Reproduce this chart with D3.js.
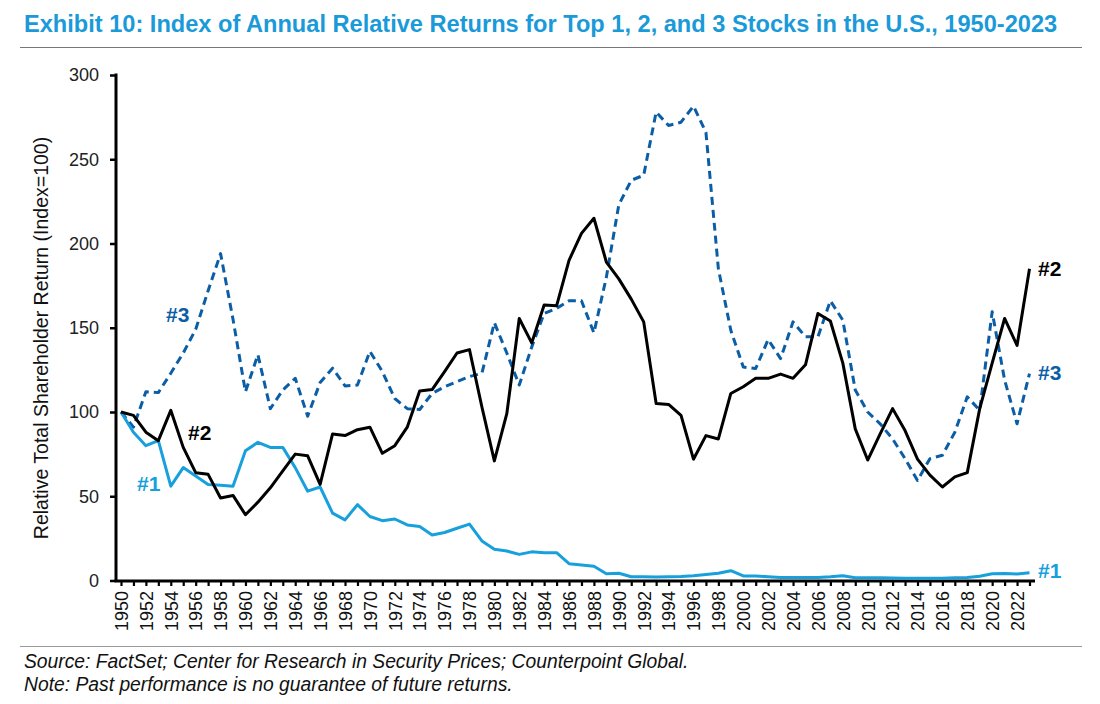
<!DOCTYPE html>
<html>
<head>
<meta charset="utf-8">
<script src="https://cdn.jsdelivr.net/npm/d3@7"></script>
<style>
  body { margin: 0; background: #fff; }
  text { font-family: "Liberation Sans", Arial, sans-serif; }
</style>
</head>
<body>
<svg id="chart" width="1100" height="704"></svg>
<script>
// years 1950..2023
const years = d3.range(1950, 2024);

// index values (1950 = 100)
const top1 = [100, 88, 80, 83, 56, 67, 62, 57, 56.5, 56,
  77, 82, 79, 79, 67, 53, 55.5, 40, 36, 45,
  38, 35.5, 36.5, 33, 32, 27, 28.5, 31, 33.5, 23.5,
  18.5, 17.5, 15.5, 17, 16.5, 16.5, 10, 9.2, 8.5, 4,
  4.3, 2.2, 2.2, 2.1, 2.2, 2.4, 2.8, 3.6, 4.3, 5.8,
  2.7, 2.7, 2.2, 1.8, 1.8, 1.8, 1.8, 2.2, 2.8, 1.6,
  1.6, 1.6, 1.5, 1.3, 1.3, 1.3, 1.3, 1.6, 1.8, 2.5,
  4, 4.1, 3.8, 4.6];

const top2 = [100, 98, 88, 83, 101, 79, 64, 63, 49, 50.5,
  39, 46.5, 55, 65, 75, 74, 57, 87, 86, 89.5,
  91, 75.5, 80, 91, 112.5, 113.3, 124, 135, 137, 103,
  71, 99, 155.5, 141, 163.5, 163, 190, 206, 215, 189,
  179, 167, 153.5, 105, 104.5, 98, 72, 86, 84, 111,
  115, 120, 120, 122.5, 120, 128, 158.5, 154, 129, 90,
  71.5, 87, 102, 89, 72, 62.5, 55.5, 61.5, 64, 102,
  129, 155.5, 139.5, 185];

const top3 = [100, 91, 112, 111.5, 123, 135, 149, 172, 194, 155,
  112, 134, 102, 113, 120, 97.5, 117.5, 126, 115.5, 116,
  136, 124, 108, 102, 101.5, 111, 115, 118, 121, 123,
  153, 135, 116, 138.5, 158.5, 161.5, 166, 166, 147, 180,
  223, 237.5, 240.5, 278, 270, 272, 281.5, 266, 185, 148.5,
  126.7, 125.8, 143, 131.7, 153.5, 144.6, 144.6, 166, 154.5, 113,
  100, 93, 84, 72.3, 59.4, 72.3, 74.3, 88, 109, 101,
  159.5, 119, 93, 122.8];

const yTicks = [0, 50, 100, 150, 200, 250, 300];

const TITLE = "Exhibit 10: Index of Annual Relative Returns for Top 1, 2, and 3 Stocks in the U.S., 1950-2023";
const Y_LABEL = "Relative Total Shareholder Return (Index=100)";
const NOTES = ["Source: FactSet; Center for Research in Security Prices; Counterpoint Global.",
  "Note: Past performance is no guarantee of future returns."];

const COL1 = "#18a0dd", COL2 = "#000000", COL3 = "#0b5ea6", TITLE_COL = "#1a9ad8";

const svg = d3.select("#chart");

// title and rules
svg.append("text").attr("x", 24).attr("y", 31.5)
  .style("font-size", "23.6px").style("font-weight", "bold").attr("fill", TITLE_COL)
  .text(TITLE);
svg.append("line").attr("x1", 20).attr("x2", 1082).attr("y1", 47.5).attr("y2", 47.5)
  .attr("stroke", "#777").attr("stroke-width", 1.2);
svg.append("line").attr("x1", 20).attr("x2", 1082).attr("y1", 646.5).attr("y2", 646.5)
  .attr("stroke", "#999").attr("stroke-width", 1.2);
NOTES.forEach((t, i) => {
  svg.append("text").attr("x", 24).attr("y", 667.5 + i * 23.5)
    .style("font-size", "19.3px").style("font-style", "italic").attr("fill", "#111")
    .text(t);
});

// scales
const xScale = d3.scaleLinear().domain([1950, 2023]).range([121, 1029.5]);
const yScale = d3.scaleLinear().domain([0, 300]).range([580.5, 75]);

// y axis
const yAxis = d3.axisLeft(yScale).tickValues(yTicks).tickSize(6).tickPadding(11);
const gy = svg.append("g").attr("transform", "translate(116,0)").call(yAxis);
gy.select(".domain").remove();
gy.selectAll(".tick line").attr("stroke", "#000").attr("stroke-width", 2.5);
gy.selectAll(".tick text").style("font-size", "18px").attr("fill", "#222");
svg.append("line").attr("x1", 116).attr("x2", 116).attr("y1", 73.5).attr("y2", 582)
  .attr("stroke", "#000").attr("stroke-width", 3);

svg.append("text")
  .attr("transform", "translate(48,338) rotate(-90)")
  .attr("text-anchor", "middle")
  .style("font-size", "19.5px").attr("fill", "#111")
  .text(Y_LABEL);

// x axis
const xAxis = d3.axisBottom(xScale).tickValues(years).tickSize(5)
  .tickFormat(d => d % 2 === 0 ? d : "");
const gx = svg.append("g").attr("transform", "translate(0,581)").call(xAxis);
gx.select(".domain").remove();
gx.selectAll(".tick line").attr("stroke", "#000").attr("stroke-width", 2.2);
gx.selectAll(".tick text")
  .style("font-size", "18px").attr("fill", "#111")
  .attr("text-anchor", "end")
  .attr("transform", "rotate(-90)")
  .attr("x", -10).attr("y", 0).attr("dy", "0.35em");
svg.append("line").attr("x1", 114.5).attr("x2", 1035).attr("y1", 581).attr("y2", 581)
  .attr("stroke", "#000").attr("stroke-width", 3);

// lines
const line = d3.line().x((d, i) => xScale(years[i])).y(d => yScale(d));

svg.append("path").datum(top3).attr("d", line)
  .attr("fill", "none").attr("stroke", COL3).attr("stroke-width", 3)
  .attr("stroke-dasharray", "8,5").attr("stroke-linejoin", "round");
svg.append("path").datum(top1).attr("d", line)
  .attr("fill", "none").attr("stroke", COL1).attr("stroke-width", 3)
  .attr("stroke-linejoin", "round");
svg.append("path").datum(top2).attr("d", line)
  .attr("fill", "none").attr("stroke", COL2).attr("stroke-width", 3)
  .attr("stroke-linejoin", "round");

// series labels
const labels = [
  { t: "#3", x: 166, y: 322, c: COL3 },
  { t: "#2", x: 188, y: 440, c: COL2 },
  { t: "#1", x: 137, y: 491, c: COL1 },
  { t: "#2", x: 1038, y: 276, c: COL2 },
  { t: "#3", x: 1038, y: 380, c: COL3 },
  { t: "#1", x: 1038, y: 578, c: COL1 }
];
svg.selectAll(".series-label").data(labels).join("text")
  .attr("class", "series-label")
  .attr("x", d => d.x).attr("y", d => d.y)
  .style("font-size", "21px").style("font-weight", "bold")
  .attr("fill", d => d.c)
  .text(d => d.t);
</script>
</body>
</html>
